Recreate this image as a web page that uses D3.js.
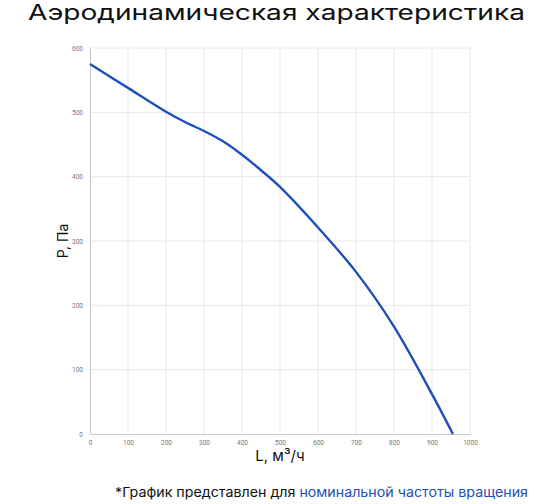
<!DOCTYPE html>
<html lang="ru">
  <head>
    <meta charset="UTF-8" />
    <title>Аэродинамическая характеристика</title>
    <style>
      body { margin: 0; background: #fff; }
      svg { display: block; font-family: Inter, "Noto Sans", sans-serif; }
    </style>
  </head>
  <body>
    <svg id="chart" width="560" height="504"></svg>
    <script src="https://cdn.jsdelivr.net/npm/d3@7"></script>
    <script>
      // flow L, m3/h and pressure P, Pa
      var flow     = [0,   100, 200, 250, 300, 350, 400, 450, 500, 600, 700, 800, 900, 955];
      var pressure = [575, 538, 501, 485, 471, 455, 434, 410, 384, 321, 252, 167, 62,  0];
      var xTicks = [0, 100, 200, 300, 400, 500, 600, 700, 800, 900, 1000];
      var yTicks = [0, 100, 200, 300, 400, 500, 600];

      var width = 560;
      var height = 504;
      var margin = { top: 48, right: 90, bottom: 70, left: 90 };

      var svg = d3.select('#chart');

      var x = d3.scaleLinear().domain([0, 1000]).range([margin.left, width - margin.right]);
      var y = d3.scaleLinear().domain([0, 600]).range([height - margin.bottom, margin.top]);

      // grid
      svg.append('g')
        .attr('stroke', '#e8e8e8')
        .attr('stroke-width', 1)
        .selectAll('line')
        .data(xTicks.slice(1))
        .join('line')
        .attr('x1', d => x(d)).attr('x2', d => x(d))
        .attr('y1', y(600)).attr('y2', y(0));

      svg.append('g')
        .attr('stroke', '#e8e8e8')
        .attr('stroke-width', 1)
        .selectAll('line')
        .data(yTicks.slice(1))
        .join('line')
        .attr('x1', x(0)).attr('x2', x(1000))
        .attr('y1', d => y(d)).attr('y2', d => y(d));

      // axes
      var xAxis = svg.append('g')
        .attr('transform', `translate(0,${y(0)})`)
        .call(d3.axisBottom(x).tickValues(xTicks).tickFormat(d3.format('d')).tickSize(0).tickPadding(6));
      var yAxis = svg.append('g')
        .attr('transform', `translate(${x(0)},0)`)
        .call(d3.axisLeft(y).tickValues(yTicks).tickFormat(d3.format('d')).tickSize(0).tickPadding(7));

      [xAxis, yAxis].forEach(a => {
        a.select('.domain').attr('stroke', '#c8c8c8');
        a.selectAll('text').attr('fill', '#777').style('font-size', '6.5px')
          .style('font-family', 'Roboto, sans-serif');
      });

      // curve
      var line = d3.line()
        .x((d, i) => x(flow[i]))
        .y(d => y(d))
        .curve(d3.curveCatmullRom.alpha(0.5));

      svg.append('path')
        .datum(pressure)
        .attr('fill', 'none')
        .attr('stroke', '#1d4fbf')
        .attr('stroke-width', 2.4)
        .attr('d', line);

      // titles
      svg.append('text')
        .attr('x', 28)
        .attr('y', 20)
        .attr('textLength', 497)
        .attr('lengthAdjust', 'spacingAndGlyphs')
        .style('font-size', '21px')
        .attr('fill', '#111')
        .text('Аэродинамическая характеристика');

      svg.append('text')
        .attr('x', (x(0) + x(1000)) / 2)
        .attr('y', 461)
        .attr('text-anchor', 'middle')
        .style('font-size', '15px')
        .attr('fill', '#111')
        .text('L, м³/ч');

      svg.append('text')
        .attr('transform', `translate(68,${y(300)}) rotate(-90)`)
        .attr('text-anchor', 'middle')
        .style('font-size', '14px')
        .attr('fill', '#111')
        .text('P, Па');

      var note = svg.append('text')
        .attr('x', 115)
        .attr('y', 497)
        .attr('textLength', 413)
        .attr('lengthAdjust', 'spacingAndGlyphs')
        .style('font-size', '13.5px')
        .attr('fill', '#111');
      note.append('tspan').text('*График представлен для ');
      note.append('tspan').attr('fill', '#1f4fb0').text('номинальной частоты вращения');
    </script>
  </body>
</html>
